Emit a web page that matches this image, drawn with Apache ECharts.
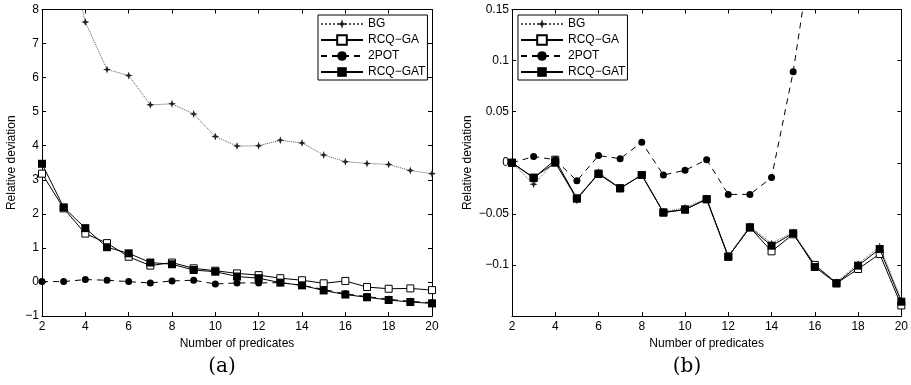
<!DOCTYPE html>
<html>
<head>
<meta charset="utf-8">
<script src="https://cdn.jsdelivr.net/npm/echarts@6/dist/echarts.min.js"></script>
<style>
  html, body { margin: 0; padding: 0; background: #fff; }
  #chart { width: 911px; height: 385px; }
</style>
</head>
<body>
<div id="chart"></div>
<script>
// number of predicates
const predicates = [2, 3, 4, 5, 6, 7, 8, 9, 10, 11, 12, 13, 14, 15, 16, 17, 18, 19, 20];

// panel (a)
const bgA = [13.0, 10.3, 7.63, 6.24, 6.06, 5.2, 5.23, 4.93, 4.27, 3.99, 4.0, 4.16, 4.08, 3.73, 3.53, 3.48, 3.45, 3.27, 3.18];
const gaA = [3.18, 2.16, 1.42, 1.14, 0.74, 0.48, 0.57, 0.4, 0.33, 0.25, 0.2, 0.11, 0.05, -0.04, 0.03, -0.15, -0.2, -0.19, -0.24];
const potA = [0.01, 0.01, 0.07, 0.05, 0.01, -0.03, 0.03, 0.05, -0.06, -0.03, -0.03, -0.02, -0.1, -0.22, -0.35, -0.43, -0.51, -0.57, -0.61];
const gatA = [3.47, 2.19, 1.58, 1.02, 0.84, 0.57, 0.52, 0.35, 0.3, 0.16, 0.11, -0.02, -0.1, -0.25, -0.37, -0.45, -0.53, -0.59, -0.63];

// panel (b)
const bgB = [0, -0.021, 0.001, -0.037, -0.009, -0.025, -0.012, -0.048, -0.044, -0.035, -0.091, -0.062, -0.079, -0.068, -0.1, -0.117, -0.099, -0.082, -0.134];
const gaB = [0, -0.015, 0.003, -0.035, -0.011, -0.025, -0.012, -0.0487, -0.0458, -0.0357, -0.092, -0.0633, -0.0867, -0.07, -0.1, -0.118, -0.104, -0.0893, -0.1397];
const potB = [0, 0.006, 0.003, -0.0177, 0.007, 0.004, 0.02, -0.012, -0.0074, 0.003, -0.031, -0.031, -0.0145, 0.089, 0.228, null, null, null, null];
const gatB = [0, -0.0145, 0, -0.035, -0.0106, -0.025, -0.012, -0.0487, -0.0458, -0.0357, -0.0919, -0.0633, -0.0812, -0.069, -0.102, -0.118, -0.1007, -0.0844, -0.136];

const names = ['BG', 'RCQ\u2212GA', '2POT', 'RCQ\u2212GAT'];
const xTicksA = { min: 2, max: 20, interval: 2 };
const yTicksA = { min: -1, max: 8, interval: 1 };
const yTicksB = { min: -0.15, max: 0.15, interval: 0.05 };

const FONT = 'Liberation Sans';
const pairs = vals => predicates.map((x, i) => [x, vals[i]]);
const minus = v => String(+v.toFixed(4)).replace('-', '\u2212');

const starPath = 'path://M0,-5 L1.3,-1.3 L5,0 L1.3,1.3 L0,5 L-1.3,1.3 L-5,0 L-1.3,-1.3 Z';

function styles(i) {
  return [
    { symbol: starPath, symbolSize: 8, itemStyle: { color: '#222' }, lineStyle: { color: '#555', width: 1, type: 'dotted' } },
    { symbol: 'rect', symbolSize: 7, itemStyle: { color: '#fff', borderColor: '#000', borderWidth: 1 }, lineStyle: { color: '#000', width: 1, type: 'solid' } },
    { symbol: 'circle', symbolSize: 7, itemStyle: { color: '#000' }, lineStyle: { color: '#000', width: 1, type: [6, 5] } },
    { symbol: 'rect', symbolSize: 8, itemStyle: { color: '#000' }, lineStyle: { color: '#000', width: 1, type: 'solid' } }
  ][i];
}

function makeSeries(sets, axisIdx) {
  return sets.map((vals, i) => Object.assign({
    name: names[i],
    type: 'line',
    xAxisIndex: axisIdx,
    yAxisIndex: axisIdx,
    data: pairs(vals),
    showAllSymbol: true,
    animation: false,
    z: 2 + i
  }, styles(i)));
}

function xAxes(grid) {
  const base = { type: 'value', gridIndex: grid, min: xTicksA.min, max: xTicksA.max, interval: xTicksA.interval,
    splitLine: { show: false },
    axisLine: { onZero: false, lineStyle: { color: '#000', width: 1 } },
    axisTick: { inside: true, length: 4, lineStyle: { color: '#000' } } };
  return [
    Object.assign({}, base, { position: 'bottom',
      name: 'Number of predicates', nameLocation: 'middle', nameGap: 19,
      nameTextStyle: { fontFamily: FONT, fontSize: 12, color: '#000' },
      axisLabel: { margin: 5, fontFamily: FONT, fontSize: 12, color: '#000' } }),
    Object.assign({}, base, { position: 'top', axisLabel: { show: false } })
  ];
}

function yAxes(grid, t, gap, hideMin) {
  const base = { type: 'value', gridIndex: grid, min: t.min, max: t.max, interval: t.interval,
    splitLine: { show: false },
    axisLine: { onZero: false, lineStyle: { color: '#000', width: 1 } },
    axisTick: { inside: true, length: 4, lineStyle: { color: '#000' } } };
  return [
    Object.assign({}, base, { position: 'left',
      name: 'Relative deviation', nameLocation: 'middle', nameGap: gap, nameRotate: 90,
      nameTextStyle: { fontFamily: FONT, fontSize: 12, color: '#000' },
      axisLabel: { margin: 3, fontFamily: FONT, fontSize: 12, color: '#000', showMinLabel: !hideMin, formatter: minus } }),
    Object.assign({}, base, { position: 'right', axisLabel: { show: false } })
  ];
}

function legend(left) {
  return {
    left: left, top: 15, orient: 'vertical',
    data: names,
    itemWidth: 42, itemHeight: 12, itemGap: 2,
    padding: [2, 2, 1, 2],
    borderColor: '#000', borderWidth: 1, backgroundColor: '#fff',
    selectedMode: false,
    textStyle: { fontFamily: FONT, fontSize: 12, color: '#000', lineHeight: 14 }
  };
}

const xa = xAxes(0), xb = xAxes(1);
const ya = yAxes(0, yTicksA, 24, false), yb = yAxes(1, yTicksB, 38, true);

const chart = echarts.init(document.getElementById('chart'), null, { renderer: 'canvas' });
chart.setOption({
  backgroundColor: '#fff',
  animation: false,
  title: [
    { text: '(a)', left: 217, top: 352, textAlign: 'center', textStyle: { fontFamily: 'DejaVu Serif', fontSize: 20, fontWeight: 'normal', color: '#000' } },
    { text: '(b)', left: 682, top: 352, textAlign: 'center', textStyle: { fontFamily: 'DejaVu Serif', fontSize: 20, fontWeight: 'normal', color: '#000' } }
  ],
  legend: [legend(318), legend(518)],
  grid: [
    { left: 42, right: 479, top: 9.5, bottom: 69 },
    { left: 512, right: 9, top: 9.5, bottom: 69 }
  ],
  xAxis: [xa[0], xa[1], xb[0], xb[1]],
  yAxis: [ya[0], ya[1], yb[0], yb[1]],
  series: makeSeries([bgA, gaA, potA, gatA], 0).concat(makeSeries([bgB, gaB, potB, gatB], 2))
});
</script>
</body>
</html>
